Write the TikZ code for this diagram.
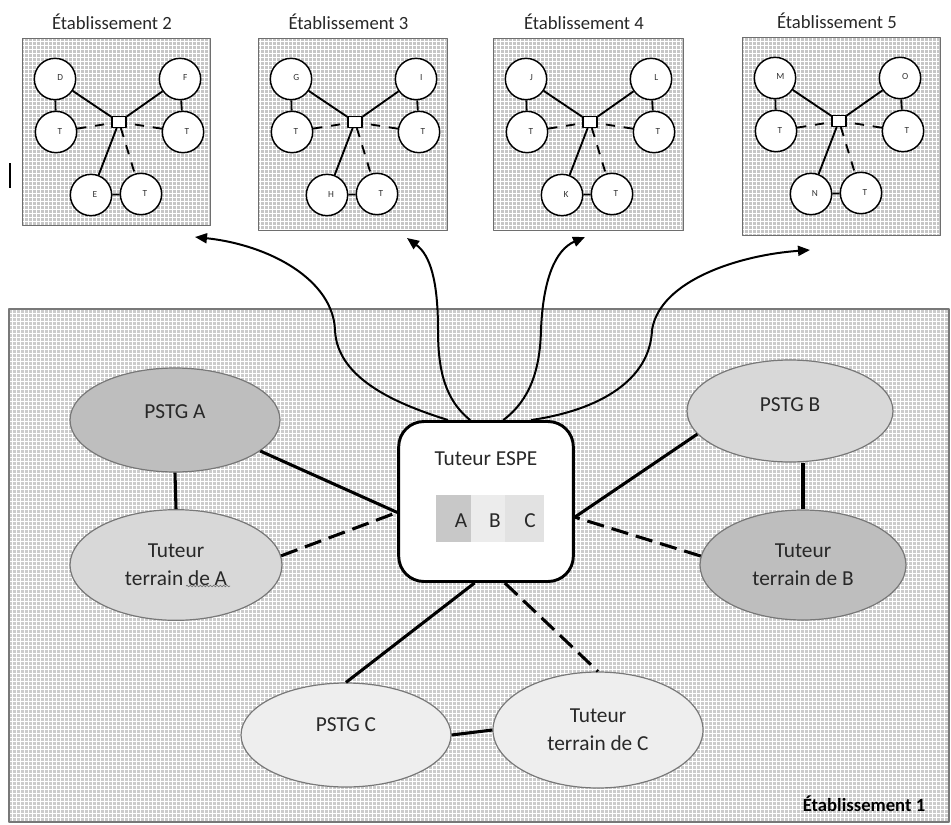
\documentclass[tikz,border=0pt]{standalone}
\usepackage{fontspec}
\setmainfont{Carlito}
\usetikzlibrary{arrows.meta,shapes.geometric,decorations.pathmorphing,calc,patterns}
\definecolor{bgfill}{RGB}{204,204,204}
\definecolor{bgline}{RGB}{120,120,120}
\definecolor{sboxfill}{RGB}{198,198,198}
\definecolor{sboxline}{RGB}{110,110,110}
\definecolor{ellline}{RGB}{120,120,120}
\definecolor{fdark}{RGB}{190,190,190}
\definecolor{fmid}{RGB}{216,216,216}
\definecolor{flight}{RGB}{238,238,238}
\definecolor{cellA}{RGB}{200,200,200}
\definecolor{cellB}{RGB}{236,236,236}
\definecolor{cellC}{RGB}{226,226,226}
\definecolor{txt}{RGB}{40,40,40}

\newcommand\etabbox[9]{%
\begin{scope}[shift={(#2,#3)}]
 \node[sbox, minimum width=#4*0.75pt, minimum height=#5*0.75pt] (#1box) at (0,0) {};
 \fill[texture] (1,1) rectangle (#4-1,#5-1);
 \node[stitle] (#1title) at (#4/2-4,-9) {#6};
 \node[scirc, label={[sletter,xshift=4pt,yshift=1pt]center:#7}] (#1a) at (33,41) {};
 \node[scirc, label={[sletter,xshift=3pt]center:T}] (#1at) at (34,94) {};
 \node[scirc, label={[sletter,xshift=4pt,yshift=1pt]center:#9}] (#1c) at (158,41) {};
 \node[scirc, label={[sletter,xshift=3pt]center:T}] (#1ct) at (161,94) {};
 \node[scirc, label={[sletter,xshift=3pt]center:#8}] (#1b) at (69,157) {};
 \node[scirc, label={[sletter,xshift=3pt]center:T}] (#1bt) at (119,156) {};
 \node[srect] (#1r) at (97,84) {};
 \draw[sline] (#1a) -- (#1r);
 \draw[sline] (#1c) -- (#1r);
 \draw[sline] (#1b) -- (#1r);
 \draw[sline] (#1a) -- (#1at);
 \draw[sline] (#1c) -- (#1ct);
 \draw[sline] (#1b) -- (#1bt);
 \draw[sdash] (#1at) -- (#1r);
 \draw[sdash] (#1ct) -- (#1r);
 \draw[sdash] (#1r) -- (#1bt);
\end{scope}}

\begin{document}
\begin{tikzpicture}[x=0.75pt,y=-0.75pt, line join=round,
  texture/.style={pattern=grid, pattern color=white, fill opacity=0.3},
  sbox/.style={draw=sboxline, fill=sboxfill, line width=0.9pt, inner sep=0pt, anchor=north west},
  scirc/.style={circle, draw=black, fill=white, line width=1.1pt, minimum size=31pt, inner sep=0pt},
  srect/.style={rectangle, draw=black, fill=white, line width=1.1pt, minimum width=10.5pt, minimum height=8pt, inner sep=0pt},
  sline/.style={line width=1.4pt},
  sdash/.style={line width=1.4pt, dash pattern=on 7pt off 6.5pt},
  sletter/.style={font=\fontsize{7}{8}\selectfont, text=black!80, inner sep=0pt},
  stitle/.style={font=\fontsize{14}{16}\selectfont, text=txt, anchor=base, inner sep=0pt},
  ell/.style={ellipse, draw=ellline, line width=0.9pt, inner sep=0pt, align=center, font=\fontsize{16}{21}\selectfont, text=txt},
  lbl/.style={font=\fontsize{16}{21}\selectfont, text=txt, inner sep=0pt},
  espestyle/.style={rectangle, rounded corners=19pt, draw=black, fill=white, line width=2.2pt, minimum width=131pt, minimum height=120pt, inner sep=0pt},
  cell/.style={rectangle, inner sep=0pt, minimum height=35pt},
  conn/.style={line width=2.3pt},
  dconn/.style={line width=2.3pt, dash pattern=on 13pt off 6pt},
  curv/.style={line width=1.5pt, -{Triangle[length=9pt,width=7.5pt]}}
]
\useasboundingbox (0,0) rectangle (951,825);
\fill[white] (0,0) rectangle (951,825);

% Etablissement 1 background
\fill[bgfill] (9,309) rectangle (949,822);
\fill[texture] (9,309) rectangle (949,822);
\draw[bgline, line width=0.9pt] (9,309) rectangle (949,822);
\node[font=\bfseries\fontsize{14}{16}\selectfont, text=black, inner sep=0pt] (e1) at (864,804) {Établissement 1};

% small stray mark
\draw[line width=0.9pt] (10,163) -- (10,188);

% small boxes
\etabbox{b2}{22}{38}{188}{187}{Établissement 2}{D}{E}{F}
\etabbox{b3}{258}{38}{189}{192}{Établissement 3}{G}{H}{I}
\etabbox{b4}{493}{38}{190}{192}{Établissement 4}{J}{K}{L}
\etabbox{b5}{742}{37}{198}{198}{Établissement 5}{M}{N}{O}

% central node
\node[espestyle] (espe) at (486,501.5) {};
\node[lbl] (espet) at (486,459) {Tuteur ESPE};
\node[cell, fill=cellA, minimum width=26.25pt] (ca) at (453.5,518.5) {};
\node[cell, fill=cellB, minimum width=25.5pt] (cb) at (488,518.5) {};
\node[cell, fill=cellC, minimum width=29.25pt] (cc) at (524.5,518.5) {};
\node[lbl] (la) at (461,520.5) {A};
\node[lbl] (lb) at (495,520.5) {B};
\node[lbl] (lc) at (530,520.5) {C};

% ellipses
\node[ell, fill=fdark, minimum width=157.5pt, minimum height=78pt, label={[lbl,yshift=6pt]center:PSTG A}] (pa) at (175,420) {};
\node[ell, fill=fmid, minimum width=159pt, minimum height=83pt] (ta) at (176,565) {Tuteur\\terrain de A};
\node[ell, fill=fmid, minimum width=154.5pt, minimum height=76.5pt, label={[lbl,yshift=4.5pt]center:PSTG B}] (pb) at (790,411) {};
\node[ell, fill=fdark, minimum width=154.5pt, minimum height=82.5pt] (tb) at (803,565) {Tuteur\\terrain de B};
\node[ell, fill=flight, minimum width=157.5pt, minimum height=78pt, label={[lbl,yshift=7.5pt]center:PSTG C}] (pc) at (346,735) {};
\node[ell, fill=flight, minimum width=157.5pt, minimum height=87pt] (tc) at (598,730) {Tuteur\\terrain de C};

% spell-check underline
\draw[decorate, decoration={snake, amplitude=0.6pt, segment length=2.5pt}, black!55, line width=0.5pt] ($(ta)+(10,21)$) -- ($(ta)+(54,21)$);

% connectors
\draw[conn] (pa.-20) -- (espe.187);
\draw[dconn] (ta.5) -- (espe.187);
\draw[conn] (pb.194) -- (espe.-10);
\draw[dconn] (tb.175) -- (espe.-10);
\draw[conn] (espe.262) -- (pc.90);
\draw[dconn] (espe.283) -- (tc.90);
\draw[conn] (pa.south) -- (ta.north);
\draw[conn] (tb.north) -- (tb.north |- pb.south);
\draw[conn] (pc.east) -- (tc.west);

% curved arrows
\coordinate (t2) at (195,237);
\coordinate (t3) at (407,238);
\coordinate (t4) at (585,237);
\coordinate (t5) at (810,250);
\draw[curv] (espe.115.6) .. controls (400,405) and (337,380) .. (335,330) .. controls (333,280) and (270,245) .. (t2);
\draw[curv] (espe.101) .. controls (445,400) and (438,370) .. (438,330) .. controls (438,280) and (430,255) .. (t3);
\draw[curv] (espe.78) .. controls (530,400) and (540,370) .. (541,330) .. controls (543,280) and (555,250) .. (t4);
\draw[curv] (espe.61.6) .. controls (600,410) and (650,380) .. (652,330) .. controls (660,280) and (740,255) .. (t5);
\end{tikzpicture}
\end{document}
